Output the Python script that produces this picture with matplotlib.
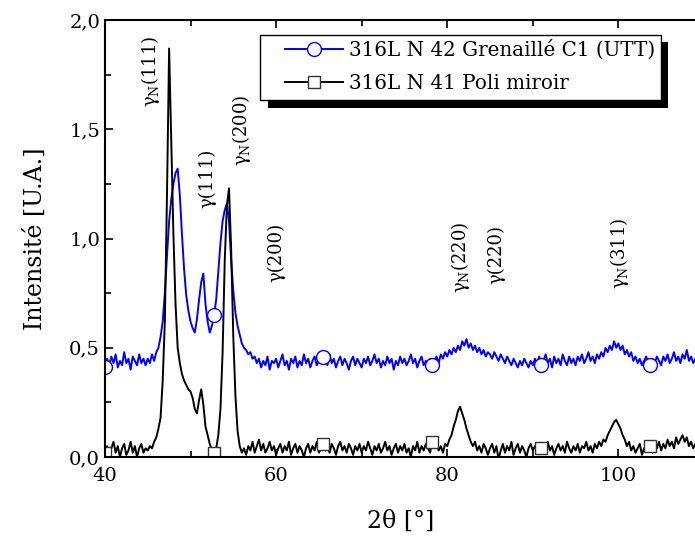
import numpy as np
import matplotlib
matplotlib.use('Agg')
import matplotlib.pyplot as plt
from matplotlib.patches import Rectangle
from matplotlib.ticker import MultipleLocator

plt.rcParams['font.family'] = ['DejaVu Serif']
plt.rcParams['mathtext.fontset'] = 'custom'
plt.rcParams['mathtext.rm'] = 'DejaVu Serif'

# scan grid (2theta, step 0.25 deg)
two_theta = np.arange(40.0, 109.001, 0.25)

# 316L N 42 Grenaille C1 (UTT), 5 deg per row
blue_vals = [
    0.41, 0.45, 0.42, 0.46, 0.43, 0.47, 0.41, 0.44, 0.42, 0.48, 0.43, 0.45, 0.40, 0.46, 0.44, 0.42, 0.47, 0.43, 0.45, 0.42,
    0.45, 0.43, 0.47, 0.44, 0.48, 0.50, 0.55, 0.62, 0.75, 0.92, 1.08, 1.18, 1.25, 1.30, 1.32, 1.20, 1.02, 0.86, 0.74, 0.67,
    0.62, 0.59, 0.57, 0.63, 0.72, 0.80, 0.84, 0.70, 0.62, 0.57, 0.60, 0.65, 0.72, 0.85, 0.98, 1.08, 1.13, 1.16, 1.08, 0.90,
    0.76, 0.66, 0.60, 0.56, 0.52, 0.50, 0.49, 0.47, 0.48, 0.45, 0.46, 0.43, 0.45, 0.41, 0.44, 0.42, 0.46, 0.40, 0.44, 0.43,
    0.45, 0.41, 0.44, 0.47, 0.42, 0.44, 0.40, 0.45, 0.43, 0.46, 0.41, 0.44, 0.42, 0.47, 0.43, 0.45, 0.41, 0.44, 0.46, 0.42,
    0.44, 0.43, 0.46, 0.45, 0.42, 0.47, 0.43, 0.45, 0.41, 0.44, 0.46, 0.42, 0.45, 0.43, 0.40, 0.44, 0.46, 0.42, 0.45, 0.43,
    0.41, 0.45, 0.43, 0.46, 0.42, 0.44, 0.47, 0.43, 0.45, 0.41, 0.44, 0.42, 0.46, 0.43, 0.45, 0.40, 0.44, 0.42, 0.46, 0.43,
    0.45, 0.42, 0.44, 0.47, 0.43, 0.45, 0.41, 0.44, 0.46, 0.42, 0.44, 0.43, 0.45, 0.42, 0.44, 0.46, 0.43, 0.47, 0.45, 0.48,
    0.46, 0.49, 0.47, 0.50, 0.48, 0.51, 0.49, 0.53, 0.51, 0.54, 0.50, 0.52, 0.49, 0.51, 0.48, 0.50, 0.47, 0.49, 0.46, 0.48,
    0.47, 0.45, 0.48, 0.46, 0.44, 0.47, 0.45, 0.43, 0.46, 0.44, 0.42, 0.45, 0.43, 0.41, 0.44, 0.42, 0.45, 0.43, 0.41, 0.44,
    0.42, 0.45, 0.43, 0.46, 0.42, 0.44, 0.47, 0.43, 0.45, 0.41, 0.46, 0.43, 0.45, 0.42, 0.47, 0.44, 0.42, 0.46, 0.43, 0.45,
    0.42, 0.46, 0.44, 0.47, 0.43, 0.45, 0.48, 0.44, 0.46, 0.43, 0.47, 0.45, 0.48, 0.46, 0.50, 0.48, 0.51, 0.49, 0.53, 0.50,
    0.52, 0.49, 0.51, 0.47, 0.49, 0.46, 0.48, 0.44, 0.46, 0.43, 0.45, 0.42, 0.44, 0.46, 0.43, 0.42, 0.45, 0.43, 0.46, 0.44,
    0.42, 0.46, 0.44, 0.47, 0.43, 0.45, 0.48, 0.44, 0.46, 0.43, 0.47, 0.45, 0.49, 0.44, 0.46, 0.43, 0.45,
]

# 316L N 41 Poli miroir
black_vals = [
    0.02, 0.05, 0.01, 0.04, 0.07, 0.02, 0.05, 0.00, 0.04, 0.06, 0.01, 0.03, 0.07, 0.02, 0.05, 0.00, 0.04, 0.06, 0.02, 0.04,
    0.03, 0.05, 0.04, 0.07, 0.09, 0.13, 0.18, 0.35, 0.62, 1.20, 1.87, 1.45, 1.02, 0.70, 0.50, 0.43, 0.38, 0.35, 0.33, 0.31,
    0.30, 0.27, 0.22, 0.20, 0.26, 0.31, 0.24, 0.14, 0.10, 0.06, 0.03, 0.02, 0.04, 0.10, 0.22, 0.48, 0.90, 1.15, 1.23, 0.95,
    0.55, 0.28, 0.12, 0.05, 0.02, 0.04, 0.01, 0.05, 0.03, 0.07, 0.02, 0.05, 0.08, 0.03, 0.06, 0.02, 0.04, 0.07, 0.03, 0.05,
    0.01, 0.04, 0.06, 0.02, 0.05, 0.03, 0.07, 0.01, 0.04, 0.06, 0.02, 0.05, 0.03, 0.00, 0.04, 0.06, 0.02, 0.05, 0.03, 0.07,
    0.02, 0.04, 0.06, 0.03, 0.05, 0.02, 0.06, 0.04, 0.01, 0.05, 0.07, 0.03, 0.05, 0.02, 0.06, 0.04, 0.01, 0.05, 0.03, 0.06,
    0.02, 0.05, 0.03, 0.07, 0.04, 0.01, 0.05, 0.03, 0.06, 0.02, 0.04, 0.07, 0.03, 0.05, 0.01, 0.04, 0.06, 0.02, 0.05, 0.03,
    0.06, 0.02, 0.04, 0.00, 0.05, 0.03, 0.07, 0.02, 0.05, 0.03, 0.06, 0.04, 0.02, 0.07, 0.04, 0.06, 0.03, 0.05, 0.02, 0.06,
    0.05, 0.08, 0.10, 0.14, 0.17, 0.21, 0.23, 0.20, 0.17, 0.13, 0.10, 0.07, 0.05, 0.07, 0.03, 0.05, 0.02, 0.06, 0.04, 0.01,
    0.04, 0.06, 0.02, 0.05, -0.01, 0.03, 0.06, 0.02, 0.05, 0.03, 0.07, 0.01, 0.04, 0.06, 0.02, 0.05, 0.03, 0.00, 0.04, 0.06,
    0.03, 0.05, 0.02, 0.06, 0.04, 0.02, 0.05, 0.07, 0.03, 0.05, 0.01, 0.04, 0.06, 0.03, 0.05, 0.02, 0.07, 0.04, 0.02, 0.05,
    0.03, 0.06, 0.02, 0.05, 0.04, 0.07, 0.03, 0.05, 0.02, 0.06, 0.04, 0.07, 0.05, 0.08, 0.07, 0.10, 0.12, 0.14, 0.16, 0.17,
    0.15, 0.13, 0.10, 0.08, 0.05, 0.07, 0.03, 0.05, 0.02, 0.04, 0.06, 0.01, 0.04, 0.03, 0.06, 0.05, 0.02, 0.06, 0.04, 0.07,
    0.03, 0.06, 0.04, 0.08, 0.05, 0.07, 0.04, 0.09, 0.06, 0.08, 0.10, 0.07, 0.09, 0.05, 0.07, 0.04, 0.06,
]

series_labels = ['316L N 42 Grenaillé C1 (UTT)', '316L N 41 Poli miroir']

# peak labels
peak_names = [r'γ$_\mathregular{N}$(111)', 'γ(111)', r'γ$_\mathregular{N}$(200)', 'γ(200)',
              r'γ$_\mathregular{N}$(220)', 'γ(220)', r'γ$_\mathregular{N}$(311)']
peak_x = [45.3, 52.0, 55.9, 60.0, 81.5, 85.7, 100.1]
peak_y = [1.60, 1.14, 1.33, 0.80, 0.75, 0.79, 0.77]

xticks = [40, 60, 80, 100]
yticks = [0.0, 0.5, 1.0, 1.5, 2.0]
ytick_labels = ['0,0', '0,5', '1,0', '1,5', '2,0']

fig = plt.figure(figsize=(6.95, 5.5), dpi=100)
ax = fig.add_axes([0.151, 0.169, 0.852, 0.7945])

ax.plot(two_theta, blue_vals, color='#0000ff', lw=1.4, marker='o', markersize=10,
        markerfacecolor='white', markeredgecolor='#0000ff', markevery=51,
        label=series_labels[0])
ax.plot(two_theta, black_vals, color='black', lw=1.4, marker='s', markersize=8,
        markerfacecolor='white', markeredgecolor='#333333', markevery=51,
        label=series_labels[1])

for name, px, py in zip(peak_names, peak_x, peak_y):
    ax.text(px, py, name, rotation=90, ha='center', va='bottom', fontsize=13)

ax.set_xlim(40, 109.2)
ax.set_ylim(0, 2.0)
ax.set_xticks(xticks)
ax.set_yticks(yticks)
ax.set_yticklabels(ytick_labels)
ax.xaxis.set_minor_locator(MultipleLocator(10))
ax.yaxis.set_minor_locator(MultipleLocator(0.25))
ax.tick_params(which='both', direction='in', top=True, right=False, labelsize=14, width=1.2)
ax.tick_params(which='major', length=6)
ax.tick_params(which='minor', length=4)
ax.tick_params(axis='x', pad=7)
for sp in ax.spines.values():
    sp.set_linewidth(1.5)

ax.set_xlabel('2θ [°]', fontsize=17, labelpad=18)
ax.set_ylabel('Intensité [U.A.]', fontsize=17, labelpad=16)

# legend without frame, frame and black shadow drawn by hand
leg = ax.legend(loc='upper left', bbox_to_anchor=(0.304, 0.956), borderaxespad=0,
                fontsize=14.3, frameon=False, handlelength=2.9, handletextpad=0.3,
                numpoints=1, borderpad=0, labelspacing=0.72)
leg.set_zorder(7)

fx0, fx1 = 0.262, 0.939
fy0, fy1 = 0.817, 0.966
sh = 7.5 / 592
sv = 7.5 / 437
ax.add_patch(Rectangle((fx0 + sh, fy0 - sv), fx1 - fx0, fy1 - fy0, transform=ax.transAxes,
                       facecolor='black', edgecolor='none', zorder=5.5, clip_on=False))
ax.add_patch(Rectangle((fx0, fy0), fx1 - fx0, fy1 - fy0, transform=ax.transAxes,
                       facecolor='white', edgecolor='black', lw=1.0, zorder=6, clip_on=False))

fig.savefig('out.png', dpi=100)
